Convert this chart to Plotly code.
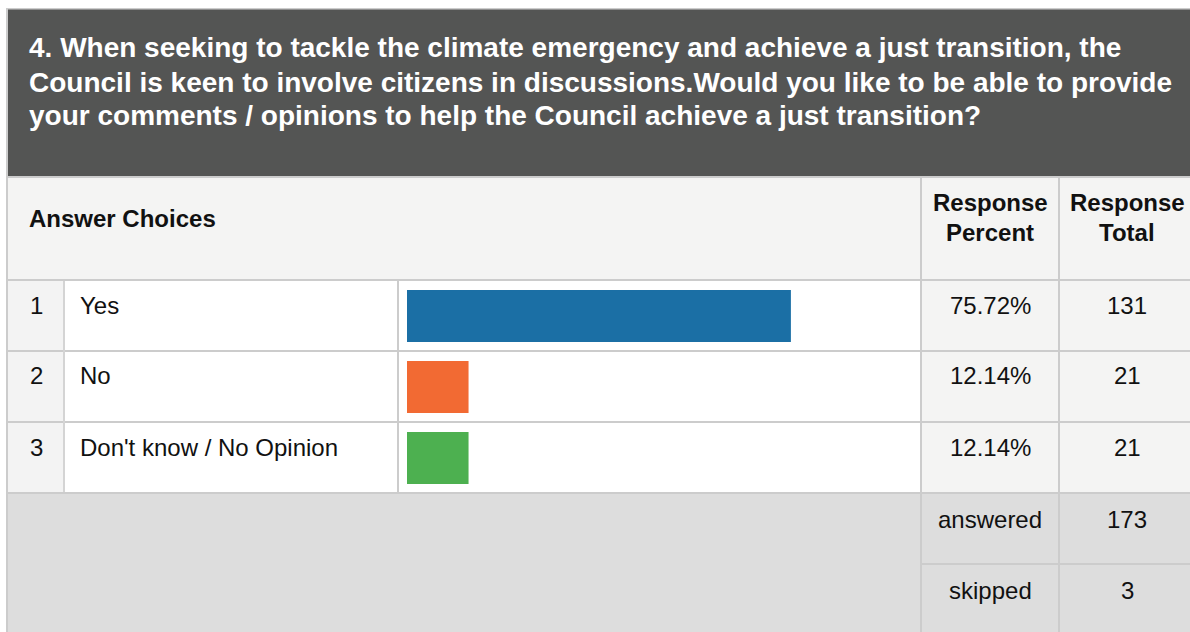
import plotly.graph_objects as go

W, H = 1190, 632

title_lines = [
    "4. When seeking to tackle the climate emergency and achieve a just transition, the",
    "Council is keen to involve citizens in discussions.Would you like to be able to provide",
    "your comments / opinions to help the Council achieve a just transition?",
]
choices = ["Yes", "No", "Don't know / No Opinion"]
row_numbers = ["1", "2", "3"]
percents = [75.72, 12.14, 12.14]
percent_labels = ["75.72%", "12.14%", "12.14%"]
totals = [131, 21, 21]
bar_colors = ["#1b6fa5", "#f26a33", "#4db050"]
answered = 173
skipped = 3

FONT = "Liberation Sans, Arial, Helvetica, sans-serif"
LINE = "#cccccc"


def px(x):
    return x / W


def py(y):
    return 1 - y / H


shapes = []


def rect(x0, y0, x1, y1, color):
    shapes.append(dict(type="rect", xref="paper", yref="paper",
                       x0=px(x0), x1=px(x1), y0=py(y1), y1=py(y0),
                       fillcolor=color, line=dict(width=0), layer="below"))


# backgrounds
rect(6, 8, W, H, LINE)
rect(8, 9.5, W, 176, "#545554")
rect(8, 178, W, 279, "#f4f4f3")
rect(8, 281, 63, 492, "#f3f3f3")
rect(65, 281, 920, 492, "#ffffff")
rect(922, 281, W, 492, "#f4f4f3")
rect(8, 494, W, H, "#dddddd")
# separators
rect(8, 279, W, 281, LINE)
rect(8, 350, W, 352, LINE)
rect(8, 421, W, 423, LINE)
rect(8, 492, W, 494, LINE)
rect(63, 281, 65, 492, "#d4d4d4")
rect(397, 281, 399, 492, LINE)
rect(920, 178, 922, H, LINE)
rect(1058, 178, 1060, H, LINE)
rect(922, 563, W, 565, LINE)

annotations = []


def text(x, y, s, anchor="left", size=24, bold=False, color="#111111"):
    if bold:
        s = "<b>" + s + "</b>"
    annotations.append(dict(xref="paper", yref="paper", x=px(x), y=py(y),
                            text=s, showarrow=False, xanchor=anchor,
                            yanchor="middle",
                            font=dict(family=FONT, size=size, color=color)))


for i, line in enumerate(title_lines):
    text(27, 48 + i * 34, line, size=28, bold=True, color="#ffffff")

text(27, 218, "Answer Choices", size=24, bold=True)
text(990, 203, "Response", anchor="center", size=24, bold=True)
text(990, 233, "Percent", anchor="center", size=24, bold=True)
text(1127, 203, "Response", anchor="center", size=24, bold=True)
text(1127, 233, "Total", anchor="center", size=24, bold=True)

for i in range(3):
    yc = 305 + i * 71
    text(36, yc, row_numbers[i], anchor="center", size=24)
    text(78, yc, choices[i], size=24)
    text(990, yc, percent_labels[i], anchor="center", size=24)
    text(1127, yc, str(totals[i]), anchor="center", size=24)

text(990, 519, "answered", anchor="center", size=24)
text(1127, 519, str(answered), anchor="center", size=24)
text(990, 590, "skipped", anchor="center", size=24)
text(1127, 590, str(skipped), anchor="center", size=24)

fig = go.Figure(go.Bar(
    x=percents, y=choices, orientation="h",
    marker=dict(color=bar_colors, line=dict(width=0)),
    width=0.73, hoverinfo="skip",
))

x_start = 407
px_per_unit = 5.07
fig.update_layout(
    width=W, height=H, autosize=False,
    margin=dict(l=0, r=0, t=0, b=0, pad=0),
    paper_bgcolor="#ffffff", plot_bgcolor="rgba(0,0,0,0)",
    showlegend=False,
    shapes=shapes, annotations=annotations,
    xaxis=dict(domain=[px(x_start), px(x_start + 100 * px_per_unit)],
               range=[0, 100], visible=False, fixedrange=True),
    yaxis=dict(domain=[py(493.5), py(280.5)], type="category",
               range=[2.5, -0.5], visible=False, fixedrange=True),
)

fig.write_html("out.html")
